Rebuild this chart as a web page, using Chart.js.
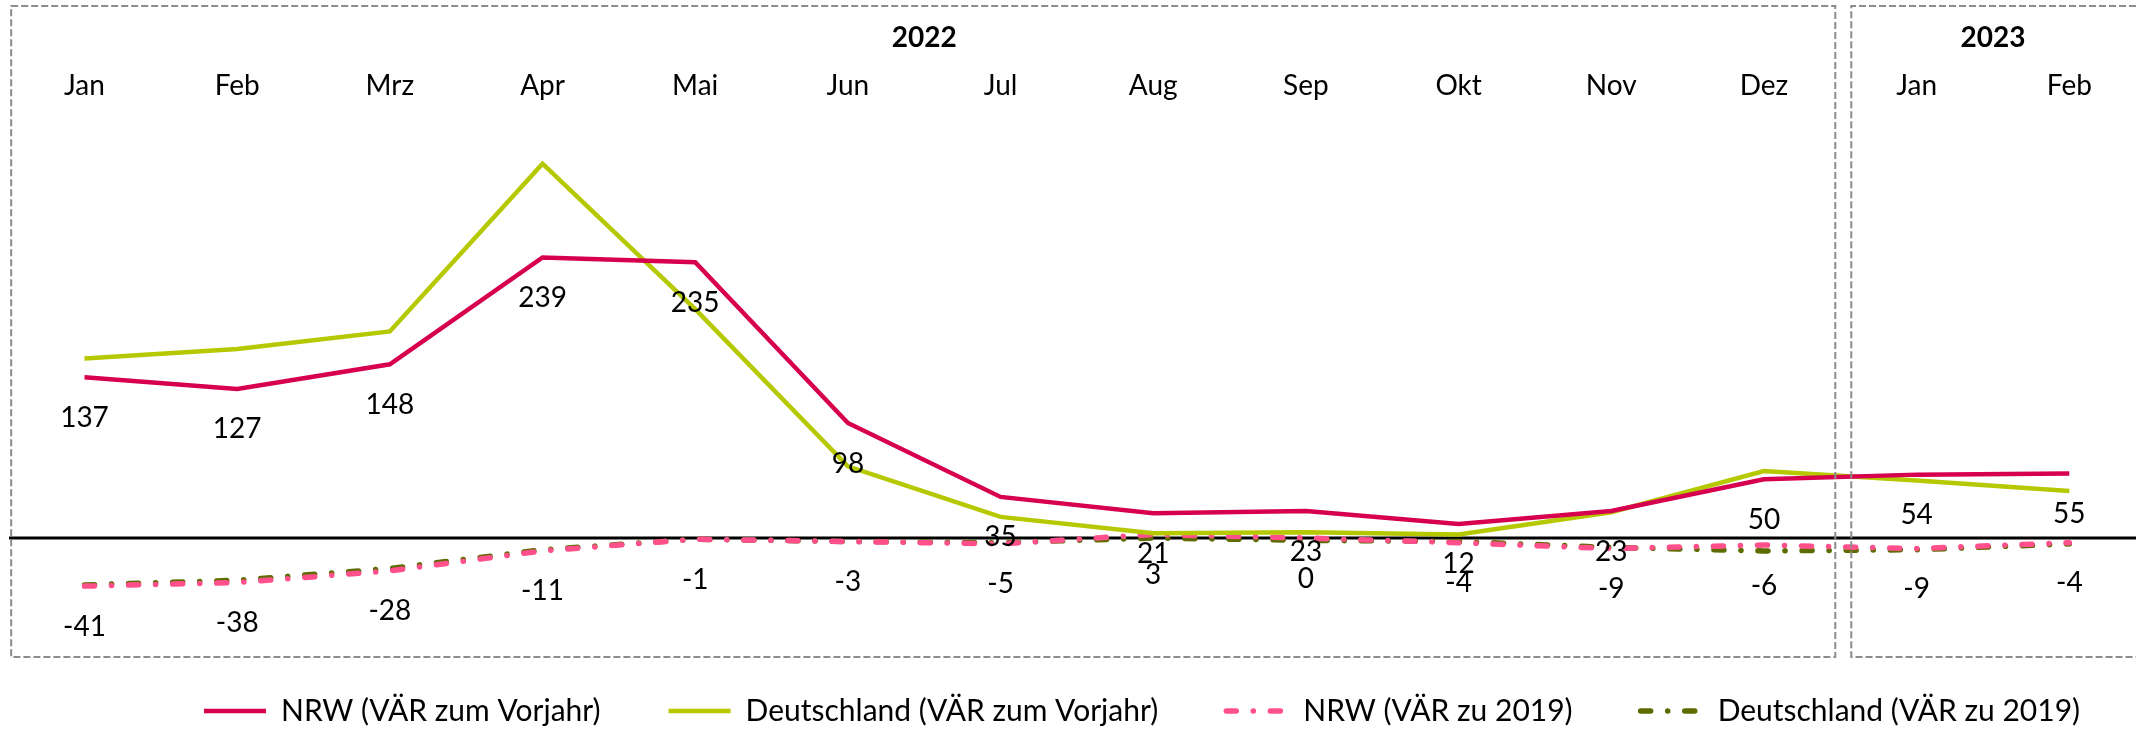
<!DOCTYPE html>
<html><head><meta charset="utf-8">
<script src="https://cdn.jsdelivr.net/npm/chart.js@4.4.0/dist/chart.umd.min.js"></script>
<style>html,body{margin:0;padding:0;background:#fff;} canvas{display:block;}</style>
</head><body>
<canvas id="c" width="2136" height="729"></canvas>
<script>
// ---- data ----
const categories = ['Jan','Feb','Mrz','Apr','Mai','Jun','Jul','Aug','Sep','Okt','Nov','Dez','Jan','Feb'];
const yearLabels = ['2022', '2023'];
const yearFirstIndex = [0, 12];
const yearLastIndex = [11, 13];
const nrwVorjahr = [137, 127, 148, 239, 235, 98, 35, 21, 23, 12, 23, 50, 54, 55];
const deVorjahr  = [153, 161, 176, 319, 195, 61, 18, 4, 5, 3, 22, 57, 49, 40];
const nrw2019    = [-41, -38, -28, -11, -1, -3, -5, 3, 0, -4, -9, -6, -9, -4];
const de2019     = [-40, -36, -26, -10, -1, -3, -4, 0, -2, -3, -8, -11, -10, -5];
const seriesNames = ['NRW (VÄR zum Vorjahr)', 'Deutschland (VÄR zum Vorjahr)', 'NRW (VÄR zu 2019)', 'Deutschland (VÄR zu 2019)'];

const FONT = 'Lato, "Open Sans", sans-serif';
const FS = 28;        // axis + value labels
const FSL = 30;       // legend
const LEG_PAD = 68;
const DASHDOT = [10, 17, 0.1, 17];

// layout geometry (pixels): zero line at 538, 1.1736 px per unit, plot top 115.5
const PX_PER_UNIT = 1.1736;
const ZERO_Y = 538;
const PLOT_TOP = 115.5;
const PLOT_BOTTOM = 729 - (FSL + LEG_PAD + 10);
const Y_MAX = (ZERO_Y - PLOT_TOP) / PX_PER_UNIT;
const Y_MIN = -(PLOT_BOTTOM - ZERO_Y) / PX_PER_UNIT;
const PLOT_LEFT = 84.5;
const PLOT_RIGHT_GAP = 66.7;

const plotPlugin = {
  id: 'plotExtras',
  afterLayout(chart) {
    const lg = chart.legend;
    if (!lg || !lg.lineWidths) return;
    const pad = lg.options.labels.padding;
    const x0 = (lg.left + pad + lg.right - lg.lineWidths[0]) / 2;
    const dx = 204 - x0;
    const dy = 711 - (lg.top + pad + FSL / 2);
    lg.left += dx; lg.right += dx;
    lg.top += dy; lg.bottom += dy;
  },
  beforeDatasetsDraw(chart) {
    const ctx = chart.ctx;
    const y0 = chart.scales.y.getPixelForValue(0);
    ctx.save();
    ctx.strokeStyle = '#000';
    ctx.lineWidth = 3;
    ctx.beginPath();
    ctx.moveTo(9, y0);
    ctx.lineTo(chart.width, y0);
    ctx.stroke();
    ctx.restore();
  },
  afterDatasetsDraw(chart) {
    const ctx = chart.ctx;
    ctx.save();
    ctx.font = FS + 'px ' + FONT;
    ctx.fillStyle = '#000';
    ctx.textAlign = 'center';
    ctx.textBaseline = 'middle';
    chart.data.datasets.forEach((ds, di) => {
      if (!ds.showValues) return;
      const meta = chart.getDatasetMeta(di);
      meta.data.forEach((pt, i) => {
        ctx.fillText(String(ds.data[i]), pt.x, pt.y + 40.5);
      });
    });
    ctx.restore();
  },
  afterDraw(chart) {
    const ctx = chart.ctx;
    const xs = chart.scales.x;
    const half = (xs.getPixelForValue(1) - xs.getPixelForValue(0)) / 2;
    const split = xs.getPixelForValue(yearLastIndex[0]) + half;
    const left1 = xs.getPixelForValue(0) - half + 3;
    const right1 = split - 5;
    const left2 = split + 11;
    const top = 6, bottom = 657;
    ctx.save();
    ctx.strokeStyle = '#8c8c8c';
    ctx.lineWidth = 2;
    ctx.setLineDash([7, 3]);
    ctx.strokeRect(left1, top, right1 - left1, bottom - top);
    ctx.beginPath();
    ctx.moveTo(chart.width, top);
    ctx.lineTo(left2, top);
    ctx.lineTo(left2, bottom);
    ctx.lineTo(chart.width, bottom);
    ctx.stroke();
    ctx.setLineDash([]);
    ctx.font = 'bold ' + FS + 'px ' + FONT;
    ctx.fillStyle = '#000';
    ctx.textAlign = 'center';
    ctx.textBaseline = 'middle';
    yearLabels.forEach((lab, k) => {
      const cx = (xs.getPixelForValue(yearFirstIndex[k]) + xs.getPixelForValue(yearLastIndex[k])) / 2;
      ctx.fillText(lab, cx, 38);
    });
    ctx.restore();
  }
};

const lineBase = { pointRadius: 0, pointHoverRadius: 0, tension: 0, fill: false };
const hiddenAxisLook = { grid: { display: false, drawTicks: false }, border: { display: false }, ticks: { display: false } };

new Chart(document.getElementById('c'), {
  type: 'line',
  data: {
    labels: categories,
    datasets: [
      Object.assign({}, lineBase, { label: seriesNames[0], data: nrwVorjahr, borderColor: '#D6004F', backgroundColor: '#D6004F', borderWidth: 4.5, showValues: true }),
      Object.assign({}, lineBase, { label: seriesNames[1], data: deVorjahr, borderColor: '#B5C800', backgroundColor: '#B5C800', borderWidth: 4.5 }),
      Object.assign({}, lineBase, { label: seriesNames[2], data: nrw2019, borderColor: '#FF508C', backgroundColor: '#FF508C', borderWidth: 5.5, borderDash: DASHDOT, borderCapStyle: 'round', showValues: true }),
      Object.assign({}, lineBase, { label: seriesNames[3], data: de2019, borderColor: '#5E6B00', backgroundColor: '#5E6B00', borderWidth: 5.5, borderDash: DASHDOT, borderCapStyle: 'round' })
    ]
  },
  options: {
    responsive: false,
    animation: false,
    devicePixelRatio: 1,
    layout: { padding: { left: 0, right: 0, top: PLOT_TOP - 50, bottom: 0 } },
    scales: {
      x: {
        type: 'category',
        position: 'top',
        offset: false,
        grid: { display: false, drawTicks: false },
        border: { display: false },
        ticks: { color: '#000', font: { family: FONT, size: FS }, padding: PLOT_TOP - 86 - FS * 0.6, maxRotation: 0, autoSkip: false },
        afterFit(scale) { scale.height = 50; }
      },
      y: Object.assign({
        type: 'linear',
        position: 'left',
        min: Y_MIN,
        max: Y_MAX,
        afterFit(scale) { scale.width = PLOT_LEFT; }
      }, hiddenAxisLook),
      yRight: Object.assign({
        type: 'linear',
        position: 'right',
        min: 0,
        max: 1,
        afterFit(scale) { scale.width = PLOT_RIGHT_GAP; }
      }, hiddenAxisLook)
    },
    plugins: {
      tooltip: { enabled: false },
      legend: {
        display: true,
        position: 'bottom',
        labels: {
          color: '#000',
          font: { family: FONT, size: FSL },
          padding: LEG_PAD,
          usePointStyle: true,
          pointStyle: 'line',
          pointStyleWidth: 62,
          boxWidth: 62,
          generateLabels(chart) {
            return chart.data.datasets.map((ds, i) => ({
              text: ds.label,
              fillStyle: ds.borderColor,
              strokeStyle: ds.borderColor,
              lineWidth: ds.borderWidth,
              lineDash: ds.borderDash || [],
              lineCap: ds.borderCapStyle || 'butt',
              pointStyle: 'line',
              hidden: false,
              fontColor: '#000',
              datasetIndex: i
            }));
          }
        }
      }
    }
  },
  plugins: [plotPlugin]
});
</script>
</body></html>
